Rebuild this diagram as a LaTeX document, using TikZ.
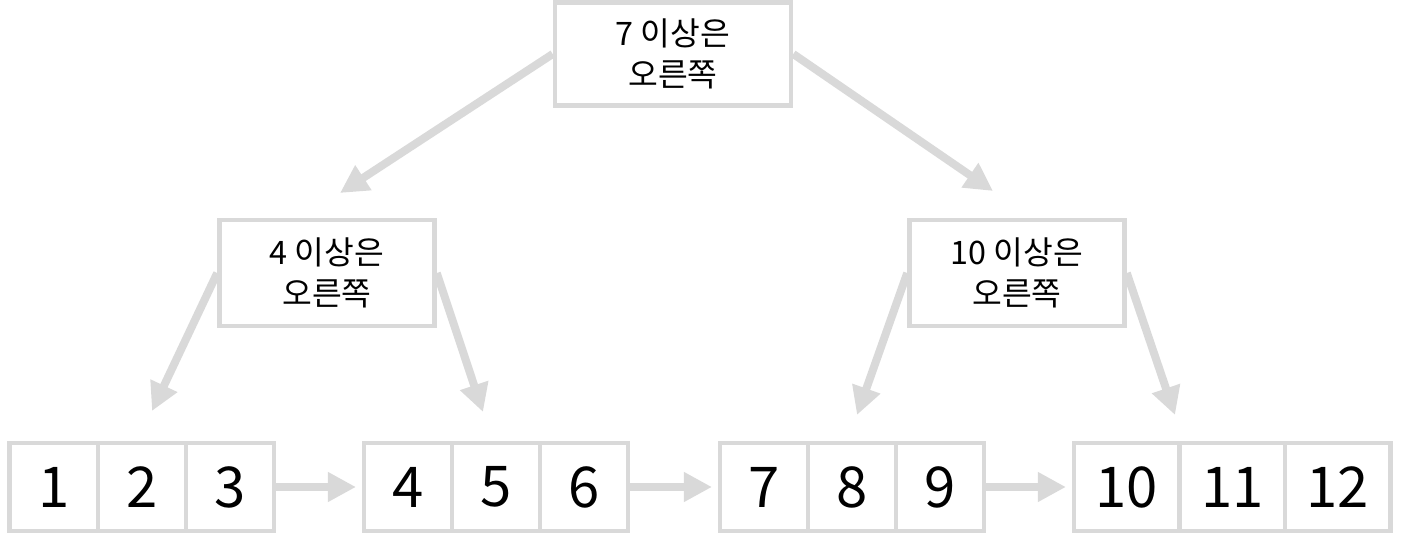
\documentclass[tikz,border=0pt]{standalone}
\usepackage{fontspec}
\setmainfont{Noto Sans CJK KR}
\usepackage{tikz}
\usetikzlibrary{arrows.meta, positioning}
\definecolor{TreeGray}{HTML}{D9D9D9}

\begin{document}
\begin{tikzpicture}[
    x=0.025cm, y=-0.025cm,
    rule/.style={
      rectangle, draw=TreeGray, line width=3.2pt, fill=white, align=center,
      font=\fontsize{23pt}{29pt}\selectfont, inner sep=0pt
    },
    cell/.style={
      rectangle, draw=TreeGray, line width=3.2pt, fill=white, outer sep=0pt,
      minimum width=2.2cm, minimum height=2.2cm, inner sep=0pt,
      font=\fontsize{40pt}{44pt}\selectfont
    },
    wide/.style={cell, minimum width=2.64cm},
    flow/.style={-{Triangle[length=0.7cm, width=0.7cm]}, draw=TreeGray, line width=0.2cm}
  ]
    \useasboundingbox (0,0) rectangle (1408,557);

    \node[rule, minimum width=5.9cm, minimum height=2.575cm] (root) at (673,54) {7 이상은\\오른쪽};
    \node[rule, minimum width=5.375cm, minimum height=2.65cm] (left) at (327,273) {4 이상은\\오른쪽};
    \node[rule, minimum width=5.375cm, minimum height=2.65cm] (right) at (1017,273) {10 이상은\\오른쪽};

    \node[cell] (c1) at (53.75,487) {1};
    \node[cell] (c2) at (142,487) {2};
    \node[cell] (c3) at (230,487) {3};
    \node[cell] (c4) at (408,487) {4};
    \node[cell] (c5) at (496,487) {5};
    \node[cell] (c6) at (584,487) {6};
    \node[cell] (c7) at (764,487) {7};
    \node[cell] (c8) at (852,487) {8};
    \node[cell] (c9) at (940,487) {9};
    \node[wide] (c10) at (1126.75,487) {10};
    \node[wide] (c11) at (1232.25,487) {11};
    \node[wide] (c12) at (1337.75,487) {12};

    \coordinate (tipA) at (340,193);
    \coordinate (tipB) at (993,191);
    \coordinate (tipC) at (152,411);
    \coordinate (tipD) at (483,412);
    \coordinate (tipE) at (857,415);
    \coordinate (tipF) at (1175,415);

    \draw[flow] (root.west) -- (tipA);
    \draw[flow] (root.east) -- (tipB);
    \draw[flow] (left.west) -- (tipC);
    \draw[flow] (left.east) -- (tipD);
    \draw[flow] (right.west) -- (tipE);
    \draw[flow] (right.east) -- (tipF);

    \draw[flow, shorten >=0.2cm] (c3) -- (c4);
    \draw[flow, shorten >=0.2cm] (c6) -- (c7);
    \draw[flow, shorten >=0.2cm] (c9) -- (c10);
  \end{tikzpicture}
\end{document}
